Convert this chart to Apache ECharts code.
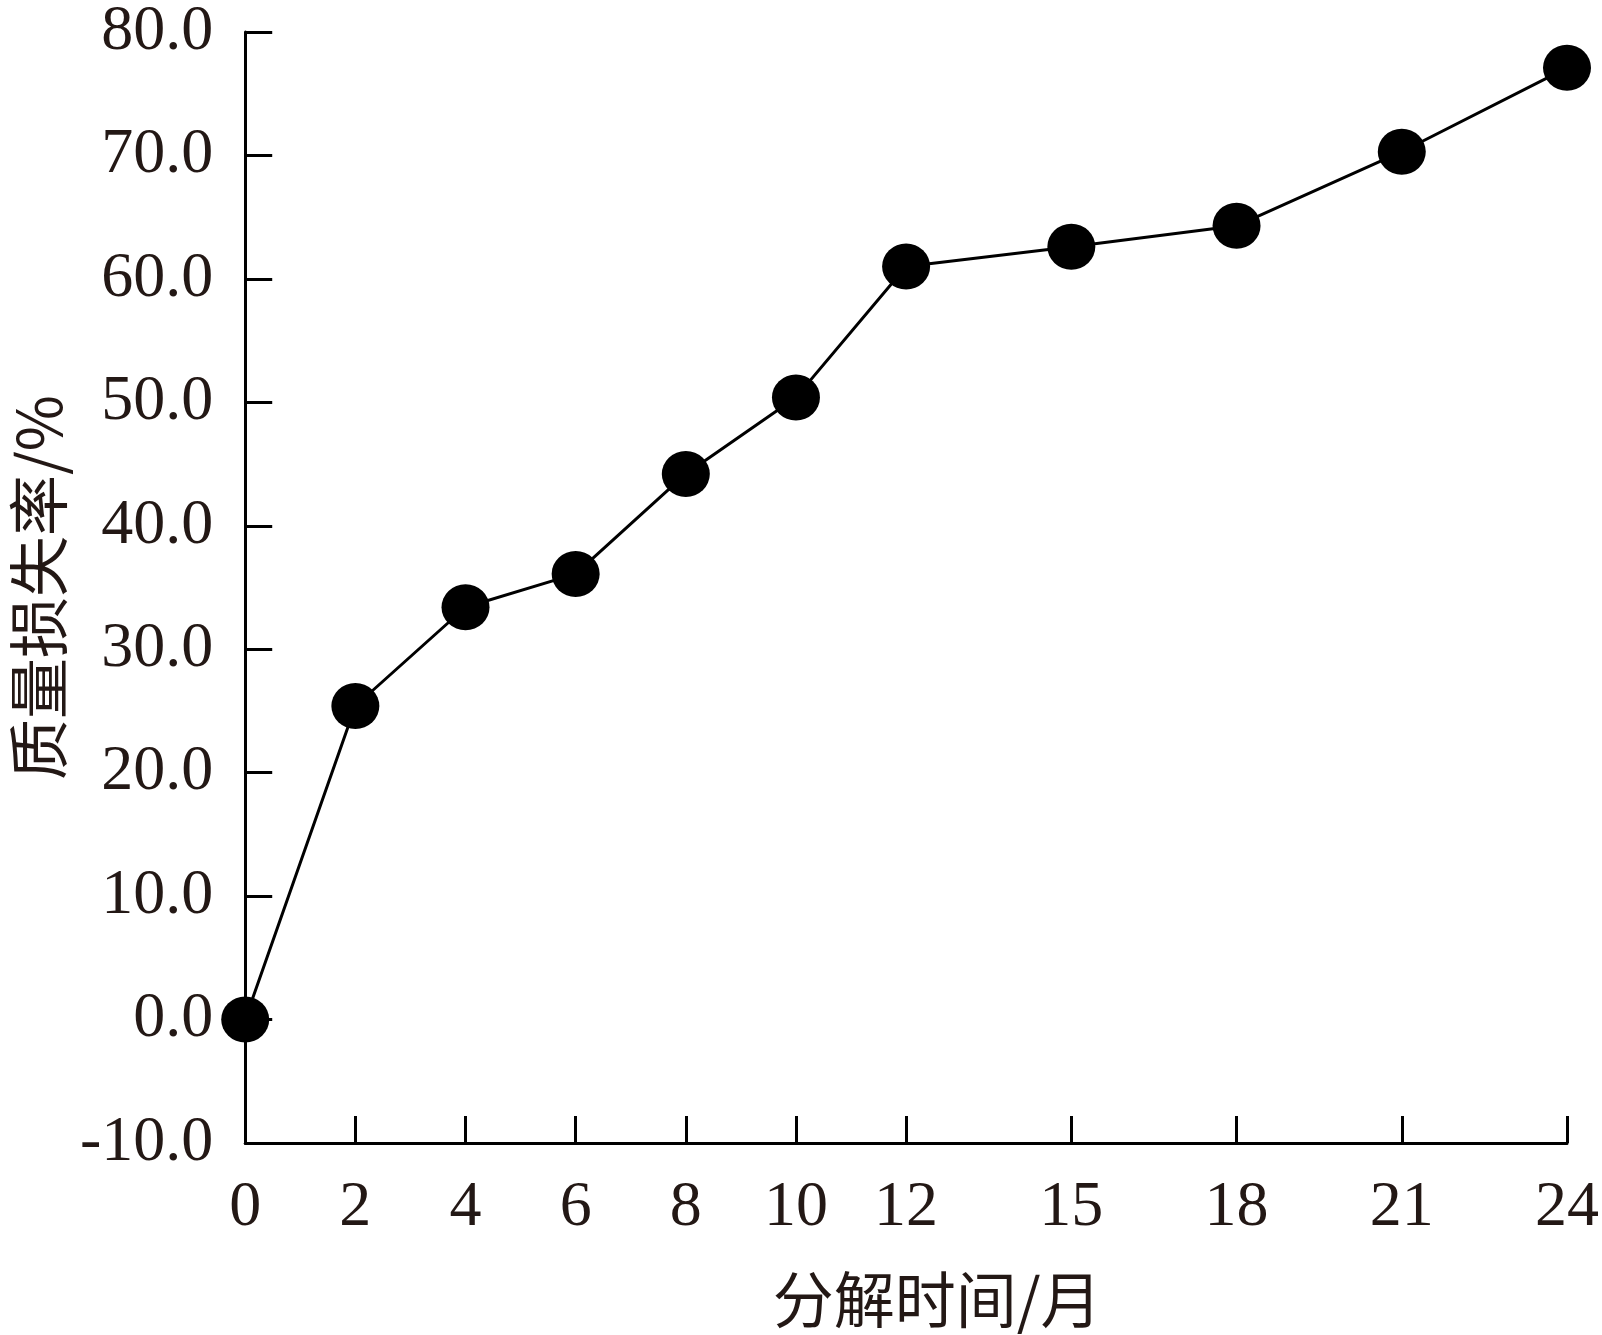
<!DOCTYPE html>
<html>
<head>
<meta charset="utf-8">
<script src="https://cdn.jsdelivr.net/npm/echarts@6/dist/echarts.min.js"></script>
<style>
html,body{margin:0;padding:0;background:#fff;}
#chart{width:1602px;height:1335px;}
</style>
</head>
<body>
<div id="chart"></div>
<script>
const months = [0, 2, 4, 6, 8, 10, 12, 15, 18, 21, 24];
const massLoss = [0.0, 25.4, 33.4, 36.1, 44.2, 50.4, 61.0, 62.6, 64.3, 70.3, 77.1];
const xTicks = [0, 2, 4, 6, 8, 10, 12, 15, 18, 21, 24];
const xName = '分解时间/月';
const yName = '质量损失率/%';

const textColor = '#231815';
const fontFam = '"Liberation Serif", "Times New Roman", "Noto Sans CJK SC", serif';
const cjkFam = '"Noto Sans CJK SC", "Liberation Serif", serif';

const chart = echarts.init(document.getElementById('chart'));
chart.setOption({
  backgroundColor: '#ffffff',
  animation: false,
  grid: { left: 240, right: 31, top: 31, bottom: 188, containLabel: false },
  xAxis: {
    type: 'value',
    min: 0,
    max: 24,
    name: xName,
    nameLocation: 'middle',
    nameGap: 126,
    nameTextStyle: { color: textColor, fontSize: 61, fontFamily: cjkFam, padding: [0, 0, 0, 62] },
    axisLine: { onZero: false, lineStyle: { color: '#000', width: 3 } },
    axisTick: { show: true, inside: true, length: 27, lineStyle: { color: '#000', width: 3 }, customValues: xTicks },
    axisLabel: { color: textColor, fontSize: 64, fontFamily: fontFam, margin: 33, customValues: xTicks },
    splitLine: { show: false }
  },
  yAxis: {
    type: 'value',
    min: -10,
    max: 80,
    interval: 10,
    name: yName,
    nameLocation: 'middle',
    nameGap: 173,
    nameTextStyle: { color: textColor, fontSize: 61, fontFamily: cjkFam },
    axisLine: { onZero: false, lineStyle: { color: '#000', width: 3 } },
    axisTick: { show: true, inside: true, length: 27, lineStyle: { color: '#000', width: 3 } },
    axisLabel: { color: textColor, fontSize: 64, fontFamily: fontFam, margin: 32, formatter: v => v.toFixed(1) },
    splitLine: { show: false }
  },
  series: [{
    type: 'line',
    data: months.map((m, i) => [m, massLoss[i]]),
    symbol: 'circle',
    symbolSize: [48, 46],
    itemStyle: { color: '#000' },
    lineStyle: { color: '#000', width: 3 },
    clip: false
  }]
});
</script>
</body>
</html>
